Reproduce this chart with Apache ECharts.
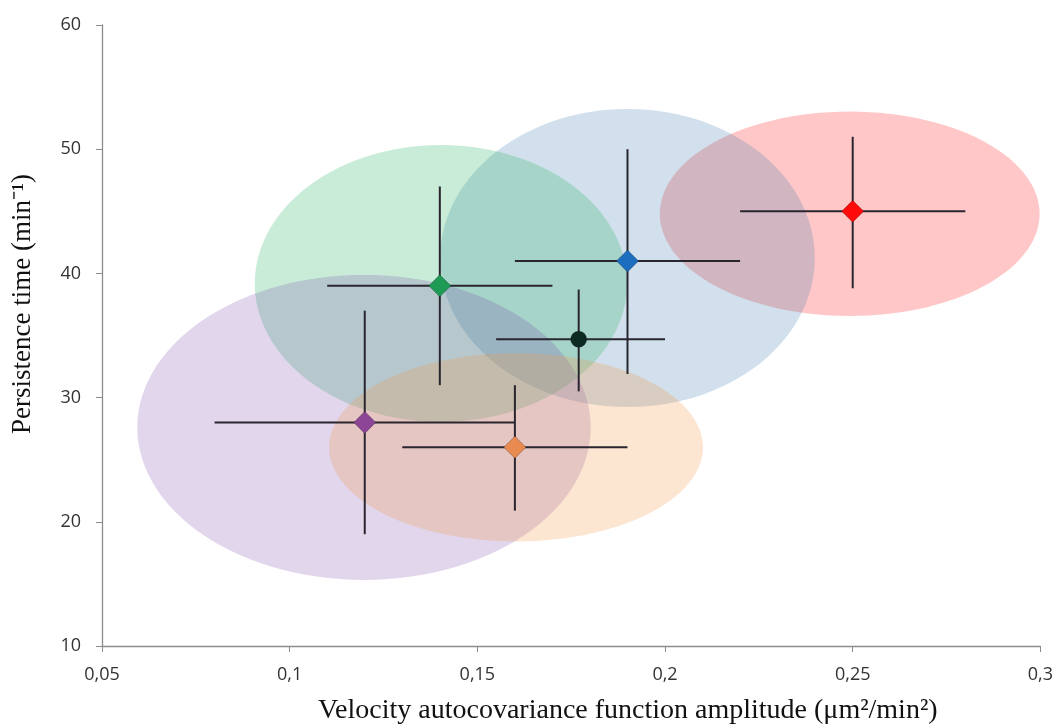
<!DOCTYPE html>
<html>
<head>
<meta charset="utf-8">
<script src="https://cdn.jsdelivr.net/npm/echarts@6/dist/echarts.min.js"></script>
<style>html,body{margin:0;padding:0;background:#fff}#c{width:1056px;height:728px}</style>
</head>
<body>
<div id="c"></div>
<script>
// ---- data ----
const groups   = ['red', 'blue', 'green', 'black', 'purple', 'orange'];
const xVals    = [0.25, 0.19, 0.14, 0.177, 0.12, 0.16];
const yVals    = [45, 41, 39, 34.7, 28, 26];
const xLow     = [0.22, 0.16, 0.11, 0.155, 0.08, 0.13];
const xHigh    = [0.28, 0.22, 0.17, 0.20, 0.16, 0.19];
const yLow     = [38.8, 31.9, 31, 30.5, 19, 20.9];
const yHigh    = [51, 50, 47, 38.7, 37, 31];
// ellipses: centre and radii (data units)
const ellGroups = ['red', 'blue', 'green', 'purple', 'orange'];
const ellCx    = [0.2492, 0.19, 0.1403, 0.1198, 0.1603];
const ellCy    = [44.8, 41.24, 39.19, 27.6, 26.0];
const ellRx    = [0.0506, 0.0499, 0.0496, 0.0604, 0.0498];
const ellRy    = [8.23, 12.0, 11.15, 12.28, 7.58];
const xTicks   = [0.05, 0.1, 0.15, 0.2, 0.25, 0.3];
const yTicks   = [10, 20, 30, 40, 50, 60];

// ---- styles ----
const markerColor = {red:'#ff0a0a', blue:'#1c6fbf', green:'#1f9a55', black:'#0c2a22', purple:'#8d4597', orange:'#e98a50'};
const ellColor = {red:'rgba(255,0,0,0.22)', blue:'rgba(70,130,180,0.25)', green:'rgba(40,180,100,0.25)', purple:'rgba(120,70,170,0.22)', orange:'rgba(245,150,70,0.25)'};

const chart = echarts.init(document.getElementById('c'));

const ellData = ellGroups.map((g,i)=>[ellCx[i], ellCy[i], ellRx[i], ellRy[i], i]);
const errData = groups.map((g,i)=>[xVals[i], yVals[i], xLow[i], xHigh[i], yLow[i], yHigh[i]]);

const option = {
  animation:false,
  grid:{left:102, right:14, top:25, bottom:82},
  xAxis:{
    type:'value', min:0.05, max:0.3, interval:0.05,
    splitLine:{show:false},
    axisLine:{lineStyle:{color:'#8c8c8c', width:1.3}},
    axisTick:{show:true, length:6, lineStyle:{color:'#8c8c8c'}},
    axisLabel:{margin:20, color:'#333', fontFamily:'Open Sans', fontSize:18,
      formatter:v=>String(+v.toFixed(2)).replace('.', ',')}
  },
  yAxis:{
    type:'value', min:10, max:60, interval:10,
    splitLine:{show:false},
    axisLine:{show:true, lineStyle:{color:'#8c8c8c', width:1.3}},
    axisTick:{show:true, length:6, lineStyle:{color:'#8c8c8c'}},
    axisLabel:{margin:21, color:'#333', fontFamily:'Open Sans', fontSize:18}
  },
  graphic:[
    {type:'text', x:318, y:697, style:{text:'Velocity autocovariance function amplitude (μm²/min²)', font:'28px "Liberation Serif"', fill:'#111', textVerticalAlign:'top'}},
    {type:'text', x:9, y:434, rotation:Math.PI/2, style:{text:'Persistence time (min⁻¹)', font:'27px "Liberation Serif"', fill:'#111', textVerticalAlign:'top'}}
  ],
  series:[
    {
      type:'custom', z:1, data:ellData, silent:true,
      renderItem:(params, api)=>{
        const c = api.coord([api.value(0), api.value(1)]);
        const s = api.size([api.value(2), api.value(3)]);
        const g = ellGroups[api.value(4)];
        const pts=[];
        for(let k=0;k<120;k++){const t=k/120*2*Math.PI;pts.push([c[0]+s[0]*Math.cos(t), c[1]+s[1]*Math.sin(t)]);}
        return {type:'polygon', shape:{points:pts}, style:{fill:ellColor[g], stroke:null}};
      }
    },
    {
      type:'custom', z:2, data:errData, silent:true,
      renderItem:(params, api)=>{
        const a = api.coord([api.value(2), api.value(1)]);
        const b = api.coord([api.value(3), api.value(1)]);
        const c = api.coord([api.value(0), api.value(4)]);
        const d = api.coord([api.value(0), api.value(5)]);
        const st = {stroke:'#2a2630', lineWidth:2};
        return {type:'group', children:[
          {type:'line', shape:{x1:a[0],y1:a[1],x2:b[0],y2:b[1]}, style:st},
          {type:'line', shape:{x1:c[0],y1:c[1],x2:d[0],y2:d[1]}, style:st}
        ]};
      }
    },
    {
      type:'scatter', z:3, silent:true,
      data:groups.map((g,i)=>({
        value:[xVals[i], yVals[i]],
        symbol: g==='black' ? 'circle' : 'diamond',
        symbolSize: g==='black' ? 16 : [22,22],
        itemStyle:{color:markerColor[g], borderColor:'rgba(0,0,0,0.25)', borderWidth:1, opacity:1}
      }))
    }
  ]
};
chart.setOption(option);
</script>
</body>
</html>
